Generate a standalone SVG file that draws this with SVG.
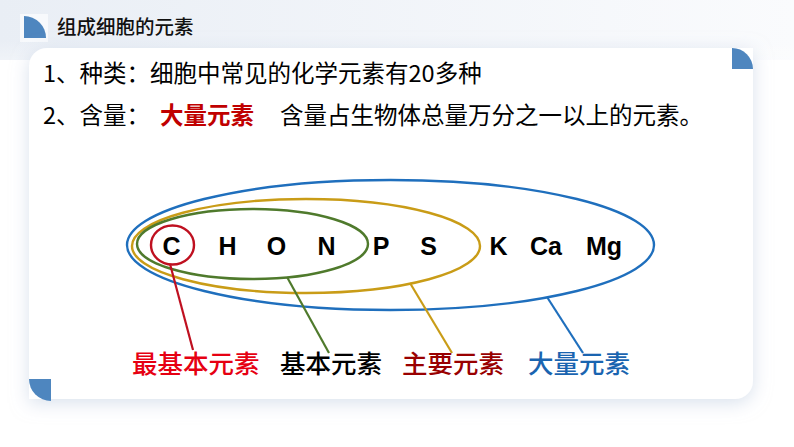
<svg xmlns="http://www.w3.org/2000/svg" width="794" height="447" viewBox="0 0 794 447">
  <defs>
    <linearGradient id="hdr" x1="0" y1="0" x2="1" y2="0">
      <stop offset="0" stop-color="#e9eef5"/>
      <stop offset="1" stop-color="#fafbfd"/>
    </linearGradient>
    <linearGradient id="fadev" x1="0" y1="0" x2="0" y2="1">
      <stop offset="0" stop-color="#ffffff" stop-opacity="0"/>
      <stop offset="1" stop-color="#ffffff" stop-opacity="1"/>
    </linearGradient>
    <filter id="shadow" x="-10%" y="-15%" width="120%" height="135%">
      <feDropShadow dx="0" dy="4" stdDeviation="9" flood-color="#b9c8de" flood-opacity="0.55"/>
    </filter>
  </defs>
  <style>
    .cjk { font-family: "Noto Sans CJK SC", "Noto Sans", sans-serif; }
    .lbl { font-weight: 500; font-size: 25.5px; }
    .el { font-family: "Liberation Sans", Arial, sans-serif; font-weight: bold; font-size: 25px; fill: #000; text-anchor: middle; }
    .corner { fill: #4e86bf; }
    .ring { fill: none; stroke-width: 2.4; }
    .conn { fill: none; stroke-width: 2.2; }
  </style>

  <!-- background -->
  <rect x="0" y="0" width="794" height="447" fill="#ffffff"/>
  <rect x="0" y="0" width="794" height="60" fill="url(#hdr)"/>
  <rect x="0" y="40" width="794" height="25" fill="url(#fadev)" opacity="0.4"/>

  <!-- header -->
  <g id="header">
    <rect x="20" y="14" width="28" height="28" fill="#f7f9fc"/>
    <path class="corner" d="M24,38 V16 A22,22 0 0 1 46,38 Z"/>
    <text class="cjk" x="57" y="34" font-size="19.5" font-weight="500" fill="#111">组成细胞的元素</text>
  </g>

  <!-- card -->
  <g id="card">
    <path d="M29,66 A18,18 0 0 1 47,48 H753 V381 A18,18 0 0 1 735,399 H29 Z" fill="#ffffff" filter="url(#shadow)"/>
    <path class="corner" d="M732,69 V48 A21,21 0 0 1 753,69 Z"/>
    <path class="corner" d="M51,379 H29 A22,22 0 0 0 51,401 Z"/>
  </g>

  <!-- text lines -->
  <g id="line1">
    <text class="cjk" x="43" y="82" font-size="23.5" fill="#000">1、种类：细胞中常见的化学元素有20多种</text>
  </g>
  <g id="line2">
    <text class="cjk" x="43" y="124" font-size="23.5" fill="#000">2、含量：</text>
    <text class="cjk" x="160" y="124" font-size="23.5" font-weight="bold" fill="#c00000">大量元素</text>
    <text class="cjk" x="280" y="124" font-size="23.5" fill="#000">含量占生物体总量万分之一以上的元素。</text>
  </g>

  <!-- sets -->
  <g id="set-major">
    <ellipse class="ring" cx="390.5" cy="245" rx="263.5" ry="65" stroke="#1f6fbd"/>
  </g>
  <g id="set-main">
    <ellipse class="ring" cx="306" cy="246" rx="174" ry="47" stroke="#c99c17"/>
  </g>
  <g id="set-basic">
    <ellipse class="ring" cx="252.5" cy="244" rx="115.5" ry="35" stroke="#4f7a2c"/>
  </g>
  <g id="set-most-basic">
    <ellipse class="ring" cx="172.5" cy="245" rx="21.5" ry="19.5" stroke="#bf1020"/>
  </g>

  <!-- elements -->
  <g id="elements">
    <text class="el" x="171.5" y="255">C</text>
    <text class="el" x="227.5" y="255">H</text>
    <text class="el" x="276.5" y="255">O</text>
    <text class="el" x="326.5" y="255">N</text>
    <text class="el" x="381" y="255">P</text>
    <text class="el" x="428.5" y="255">S</text>
    <text class="el" x="498.5" y="255">K</text>
    <text class="el" x="546" y="255">Ca</text>
    <text class="el" x="604" y="255">Mg</text>
  </g>

  <!-- connectors -->
  <g id="connectors">
    <line class="conn" x1="170" y1="264" x2="193" y2="350" stroke="#bf1020"/>
    <line class="conn" x1="287" y1="277" x2="329" y2="353" stroke="#4f7a2c"/>
    <line class="conn" x1="410" y1="283" x2="452" y2="353" stroke="#c99c17"/>
    <line class="conn" x1="547" y1="297" x2="583" y2="353" stroke="#1f6fbd"/>
  </g>

  <!-- labels -->
  <g id="label-most-basic">
    <text class="cjk lbl" x="132" y="373" fill="#e60012">最基本元素</text>
  </g>
  <g id="label-basic">
    <text class="cjk lbl" x="280" y="373" fill="#000">基本元素</text>
  </g>
  <g id="label-main">
    <text class="cjk lbl" x="402" y="373" fill="#990000">主要元素</text>
  </g>
  <g id="label-major">
    <text class="cjk lbl" x="528" y="373" fill="#1a64b0">大量元素</text>
  </g>
</svg>
